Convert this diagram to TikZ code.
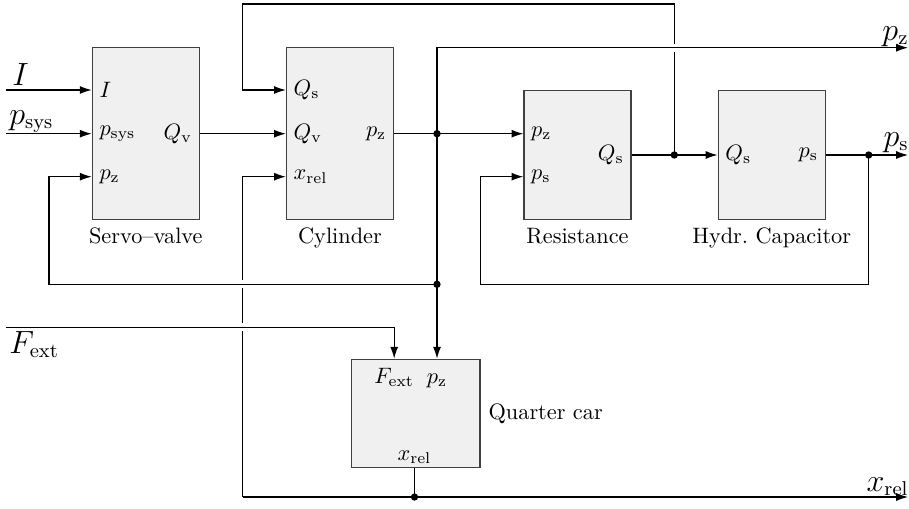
\documentclass[tikz,border=0pt]{standalone}
\usetikzlibrary{arrows.meta,calc}
\begin{document}
\begin{tikzpicture}[x=0.4484pt,y=-0.4484pt,
  blk/.style={draw=black!75, fill=black!6, line width=0.6pt, inner sep=0pt},
  con/.style={line width=0.5pt, -{Latex[length=5.3pt,width=3.6pt]}},
  ln/.style={line width=0.5pt},
  dot/.style={circle, fill=black, inner sep=0pt, minimum size=3.3pt},
  sig/.style={font=\fontsize{13.5}{16}\selectfont, inner sep=0pt},
  ttl/.style={font=\normalsize}]
\useasboundingbox (0,0) rectangle (909,509);

% blocks
\node[blk, minimum width=47.98pt, minimum height=76.95pt] (sv) at (145.8,133.5) {};
\node[blk, minimum width=47.98pt, minimum height=76.95pt] (cy) at (340,133.5) {};
\node[blk, minimum width=47.98pt, minimum height=57.66pt] (re) at (577.5,155) {};
\node[blk, minimum width=47.98pt, minimum height=57.66pt] (hc) at (771.7,155) {};
\node[blk, minimum width=57.71pt, minimum height=48.43pt] (qc) at (415.7,413.3) {};

% titles
\node[ttl, anchor=north] (svt) at (sv.south) {Servo--valve};
\node[ttl, anchor=north] (cyt) at (cy.south) {Cylinder};
\node[ttl, anchor=north] (ret) at (re.south) {Resistance};
\node[ttl, anchor=north] (hct) at (hc.south) {Hydr.\ Capacitor};
\node[ttl, anchor=west] (qct) at (qc.east) {Quarter car};

% ports
\coordinate (svI) at (sv.west |- 0,90);
\coordinate (svP) at (sv.west |- 0,133.7);
\coordinate (svZ) at (sv.west |- 0,176.7);
\coordinate (svQ) at (sv.east |- 0,133.7);
\coordinate (cyQs) at (cy.west |- 0,90);
\coordinate (cyQv) at (cy.west |- 0,133.7);
\coordinate (cyX) at (cy.west |- 0,176.7);
\coordinate (cyZ) at (cy.east |- 0,133.7);
\coordinate (reZ) at (re.west |- 0,133.7);
\coordinate (reS) at (re.west |- 0,176.7);
\coordinate (reQ) at (re.east |- 0,155);
\coordinate (hcQ) at (hc.west |- 0,155);
\coordinate (hcS) at (hc.east |- 0,155);
\coordinate (qcF) at (394.2,0 |- qc.north);
\coordinate (qcZ) at (437,0 |- qc.north);
\coordinate (qcX) at (414.5,0 |- qc.south);

% port labels
\node[anchor=west] (lsvI) at (svI) {$I$};
\node[anchor=west] (lsvP) at (svP) {$p_{\mathrm{sys}}$};
\node[anchor=west] (lsvZ) at (svZ) {$p_{\mathrm{z}}$};
\node[anchor=east] (lsvQ) at (svQ) {$Q_{\mathrm{v}}$};
\node[anchor=west] (lcyQs) at (cyQs) {$Q_{\mathrm{s}}$};
\node[anchor=west] (lcyQv) at (cyQv) {$Q_{\mathrm{v}}$};
\node[anchor=west] (lcyX) at (cyX) {$x_{\mathrm{rel}}$};
\node[anchor=east] (lcyZ) at (cyZ) {$p_{\mathrm{z}}$};
\node[anchor=west] (lreZ) at (reZ) {$p_{\mathrm{z}}$};
\node[anchor=west] (lreS) at (reS) {$p_{\mathrm{s}}$};
\node[anchor=east] (lreQ) at (reQ) {$Q_{\mathrm{s}}$};
\node[anchor=west] (lhcQ) at (hcQ) {$Q_{\mathrm{s}}$};
\node[anchor=east] (lhcS) at (hcS) {$p_{\mathrm{s}}$};
\node[anchor=base, inner sep=0pt] (lqcF) at (394.2,383.5) {$F_{\mathrm{ext}}$};
\node[anchor=base, inner sep=0pt] (lqcZ) at (437,383.5) {$p_{\mathrm{z}}$};
\node[anchor=base, inner sep=0pt] (lqcX) at (414.5,460) {$x_{\mathrm{rel}}$};

% junctions and route points
\coordinate (inI) at (6,90);
\coordinate (inP) at (6,133.7);
\coordinate (inF) at (6,327.3);
\coordinate (J1) at (437,133.7);
\coordinate (J2) at (437,284.3);
\coordinate (J3) at (674.3,155);
\coordinate (J4) at (868.7,155);
\coordinate (J5) at (414.5,497);
\coordinate (fbL) at (49,284.3);
\coordinate (topR) at (674.3,4);
\coordinate (topL) at (242.7,4);
\coordinate (pzEnd) at (908,47.7);
\coordinate (psEnd) at (908,155);
\coordinate (psB) at (868.7,284.3);
\coordinate (reB) at (480.3,284.3);
\coordinate (xL) at (242.7,497);
\coordinate (xEnd) at (908,497);

% outer labels
\node[sig, anchor=base west] (tI) at (12,85) {$I$};
\node[sig, anchor=base west] (tP) at (9,124) {$p_{\mathrm{sys}}$};
\node[sig, anchor=base west] (tF) at (9,353) {$F_{\mathrm{ext}}$};
\node[sig, anchor=base east] (tZ) at (909,40) {$p_{\mathrm{z}}$};
\node[sig, anchor=base east] (tS) at (909,146) {$p_{\mathrm{s}}$};
\node[sig, anchor=base east] (tX) at (909,491) {$x_{\mathrm{rel}}$};

% vertical lines that get gaps
\draw[con] (xL) |- (cyX);
\draw[con] (J3) -- (topR) -- (topL) |- (cyQs);
\fill[white] (240.2,280.3) rectangle (245.2,288.3);
\fill[white] (240.2,323.3) rectangle (245.2,331.3);
\fill[white] (671.8,43.7) rectangle (676.8,51.7);

% connectors
\draw[con] (inI) -- (svI);
\draw[con] (inP) -- (svP);
\draw[con] (svQ) -- (cyQv);
\draw[con] (cyZ) -- (reZ);
\draw[con] (J1) |- (pzEnd);
\draw[ln] (J1) -- (J2);
\draw[con] (J2) -- (fbL) |- (svZ);
\draw[con] (J2) -- (qcZ);
\draw[con] (reQ) -- (hcQ);
\draw[con] (hcS) -- (psEnd);
\draw[con] (J4) -- (psB) -- (reB) |- (reS);
\draw[con] (inF) -| (qcF);
\draw[ln] (qcX) -- (J5);
\draw[con] (xL) -- (xEnd);

% dots
\foreach \j in {J1,J2,J3,J4,J5} \node[dot] (d\j) at (\j) {};
\end{tikzpicture}
\end{document}
